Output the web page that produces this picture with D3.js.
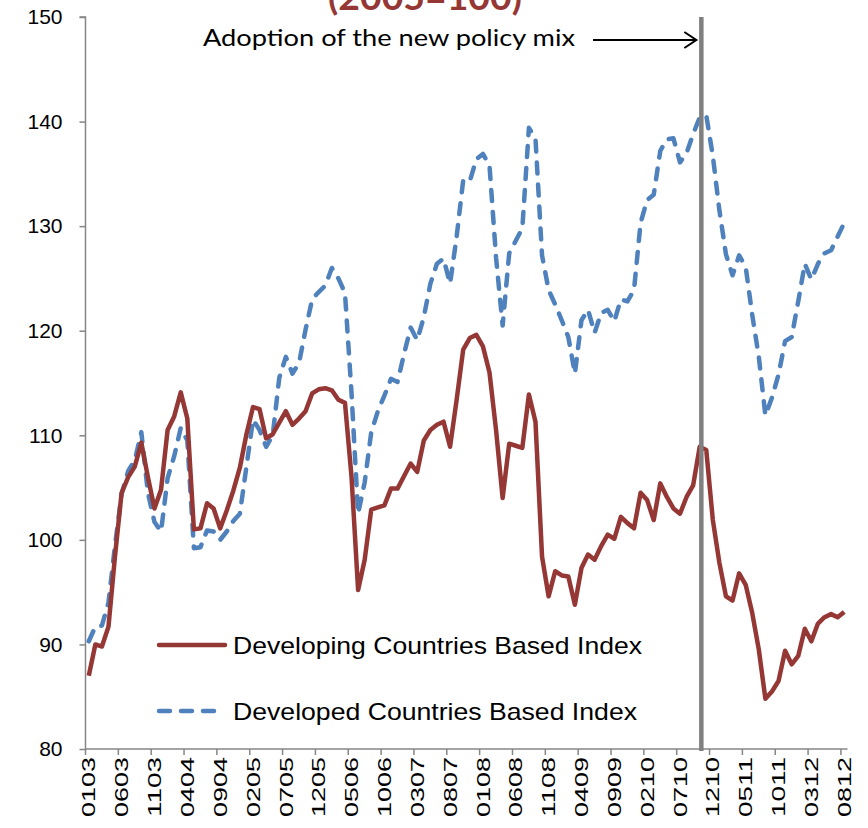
<!DOCTYPE html>
<html>
<head>
<meta charset="utf-8">
<script src="https://cdn.jsdelivr.net/npm/d3@7/dist/d3.min.js"></script>
<style>
  body { margin: 0; background: #fff; }
  svg text { font-family: "Liberation Sans", Arial, sans-serif; }
</style>
</head>
<body>
<svg id="chart" width="868" height="828"></svg>
<script>
// Monthly index values, Jan 2003 - Aug 2012 (2005=100)
const developing = [
  87.0, 90.0, 89.8, 91.7, 98.5, 104.5, 106.0, 107.0, 109.3, 106.0,
  103.0, 104.8, 110.5, 111.8, 114.1, 111.6, 101.0, 101.1, 103.5, 103.0,
  101.1, 102.8, 104.7, 106.9, 110.1, 112.7, 112.5, 109.7, 110.1, 111.2,
  112.3, 111.0, 111.6, 112.3, 114.0, 114.4, 114.5, 114.3, 113.4, 113.1,
  106.0, 95.2, 98.1, 102.9, 103.1, 103.3, 104.9, 104.9, 106.1, 107.3,
  106.5, 109.5, 110.5, 111.0, 111.3, 108.9, 113.4, 118.2, 119.3, 119.6,
  118.5, 116.0, 110.5, 104.0, 109.2, 109.0, 108.8, 113.9, 111.3, 98.4,
  94.6, 97.0, 96.6, 96.5, 93.8, 97.3, 98.6, 98.1, 99.4, 100.5,
  100.1, 102.2, 101.6, 101.1, 104.5, 103.8, 101.9, 105.4, 104.1, 103.0,
  102.5, 104.1, 105.2, 108.9, 108.6, 101.9, 97.8, 94.6, 94.2, 96.8,
  95.7, 93.0, 89.5, 84.8, 85.5, 86.5, 89.4, 88.1, 88.9, 91.5,
  90.3, 92.0, 92.6, 92.9, 92.6, 93.1
];

const developed = [
  90.3, 91.7, 91.8, 94.0, 99.5, 104.4, 106.6, 107.6, 110.3, 104.5,
  101.7, 100.8, 105.9, 108.0, 110.7, 109.5, 99.2, 99.3, 100.9, 100.8,
  100.0, 100.8, 101.8, 102.5, 107.0, 111.5, 110.5, 108.9, 110.0, 115.5,
  117.5, 115.9, 116.9, 120.1, 123.0, 123.7, 124.3, 126.0, 125.0, 123.6,
  114.0, 102.5, 105.5, 110.3, 112.3, 113.8, 115.4, 115.1, 117.8, 120.3,
  119.1, 121.3, 124.5, 126.4, 126.9, 124.5, 129.0, 134.4, 134.3, 136.4,
  136.9, 135.8, 127.0, 120.5, 127.4, 128.6, 129.8, 139.4, 138.4, 127.2,
  123.9, 122.5, 121.0, 119.4, 115.9, 121.0, 122.0, 119.8, 121.7, 122.0,
  120.9, 123.0, 122.8, 123.9, 130.3, 132.5, 133.0, 137.2, 138.3, 138.4,
  136.1, 137.0, 138.8, 140.4, 140.6, 136.7, 131.5, 127.3, 125.3, 127.2,
  126.1, 121.5, 117.5, 111.9, 113.6, 115.8, 119.0, 119.4, 122.8, 126.4,
  124.9, 126.4, 127.4, 127.7, 129.0, 130.3
];

const tickLabels = [
  "0103", "0603", "1103", "0404", "0904", "0205", "0705", "1205",
  "0506", "1006", "0307", "0807", "0108", "0608", "1108", "0409",
  "0909", "0210", "0710", "1210", "0511", "1011", "0312", "0812"
];
const yTicks = [80, 90, 100, 110, 120, 130, 140, 150];
const policyMonth = "1010";

// month codes MMYY for every category
const months = d3.timeMonth.range(new Date(2003, 0, 1), new Date(2012, 8, 1))
  .map(d3.timeFormat("%m%y"));

const red = "#953735";
const blue = "#4f81bd";
const axisGrey = "#868686";

const svg = d3.select("#chart");
const plotLeft = 85.5, plotRight = 847.5, plotTop = 17, plotBottom = 749;

const x = d3.scaleBand().domain(months).range([plotLeft, plotRight]);
const y = d3.scaleLinear().domain([80, 150]).range([plotBottom, plotTop]);
const cx = d => x(d) + x.bandwidth() / 2;

// title, clipped by the top edge
svg.append("text")
  .attr("x", 425).attr("y", 10)
  .attr("text-anchor", "middle")
  .attr("fill", red)
  .style("font-family", "Lato, 'Open Sans', sans-serif")
  .style("font-weight", "bold")
  .style("font-size", "36px")
  .attr("textLength", 194).attr("lengthAdjust", "spacingAndGlyphs")
  .text("(2005=100)");

// y axis
const yAxis = svg.append("g")
  .attr("transform", `translate(${plotLeft},0)`)
  .call(d3.axisLeft(y).tickValues(yTicks).tickSize(6).tickPadding(17));
yAxis.selectAll("line, path").attr("stroke", axisGrey).attr("stroke-width", 1.5);
yAxis.selectAll("text").style("font-size", "21px").attr("fill", "#000");
yAxis.select(".domain").attr("d", `M-6,${plotTop}H0V${plotBottom}`);

// x axis
const xAxis = svg.append("g")
  .attr("transform", `translate(0,${plotBottom})`)
  .call(d3.axisBottom(x).tickValues(tickLabels).tickSize(0).tickPadding(0));
xAxis.select(".domain").attr("stroke", axisGrey).attr("stroke-width", 1.5)
  .attr("d", `M${plotLeft},0H${plotRight}`);
xAxis.selectAll(".tick text")
  .attr("transform", "rotate(-90)")
  .attr("text-anchor", "end")
  .attr("dy", "0.35em")
  .attr("x", -8).attr("y", 0)
  .style("font-size", "19px")
  .attr("fill", "#000")
  .attr("textLength", 60).attr("lengthAdjust", "spacingAndGlyphs");
svg.append("g")
  .selectAll("line")
  .data(tickLabels)
  .join("line")
  .attr("x1", d => x(d)).attr("x2", d => x(d))
  .attr("y1", plotBottom).attr("y2", plotBottom + 6)
  .attr("stroke", axisGrey).attr("stroke-width", 1.5);

// series
const line = d3.line()
  .x((d, i) => cx(months[i]))
  .y(d => y(d));

svg.append("path")
  .datum(developed)
  .attr("d", line)
  .attr("fill", "none")
  .attr("stroke", blue)
  .attr("stroke-width", 4.5)
  .attr("stroke-linecap", "round")
  .attr("stroke-linejoin", "round")
  .attr("stroke-dasharray", "11,11");

svg.append("path")
  .datum(developing)
  .attr("d", line)
  .attr("fill", "none")
  .attr("stroke", red)
  .attr("stroke-width", 4.5)
  .attr("stroke-linejoin", "round");

// policy line
const px = x(policyMonth) + x.bandwidth() * 0.75;
svg.append("line")
  .attr("x1", px).attr("x2", px)
  .attr("y1", plotTop).attr("y2", plotBottom + 2)
  .attr("stroke", "#808080")
  .attr("stroke-width", 4.5);

// annotation
svg.append("text")
  .attr("x", 203).attr("y", 46)
  .style("font-family", "Lato, 'Open Sans', sans-serif")
  .style("font-size", "23px")
  .attr("textLength", 372).attr("lengthAdjust", "spacingAndGlyphs")
  .text("Adoption of the new policy mix");
svg.append("line")
  .attr("x1", 593).attr("x2", px - 5)
  .attr("y1", 40).attr("y2", 40)
  .attr("stroke", "#000").attr("stroke-width", 2);
svg.append("path")
  .attr("d", `M${px - 17},32 L${px - 5},40 L${px - 17},48`)
  .attr("fill", "none").attr("stroke", "#000").attr("stroke-width", 2);

// legend
const legendItems = [
  { label: "Developing Countries Based Index", colour: red, dash: null, y: 645, len: 409 },
  { label: "Developed Countries Based Index", colour: blue, dash: "11,11", y: 711, len: 404 }
];
const lg = svg.append("g").selectAll("g").data(legendItems).join("g");
lg.append("line")
  .attr("x1", 159).attr("x2", 225)
  .attr("y1", d => d.y).attr("y2", d => d.y)
  .attr("stroke", d => d.colour)
  .attr("stroke-width", 4.5)
  .attr("stroke-linecap", "round")
  .attr("stroke-dasharray", d => d.dash);
lg.append("text")
  .attr("x", 233).attr("y", d => d.y)
  .attr("dy", "0.36em")
  .style("font-size", "24px")
  .attr("textLength", d => d.len).attr("lengthAdjust", "spacingAndGlyphs")
  .text(d => d.label);
</script>
</body>
</html>
